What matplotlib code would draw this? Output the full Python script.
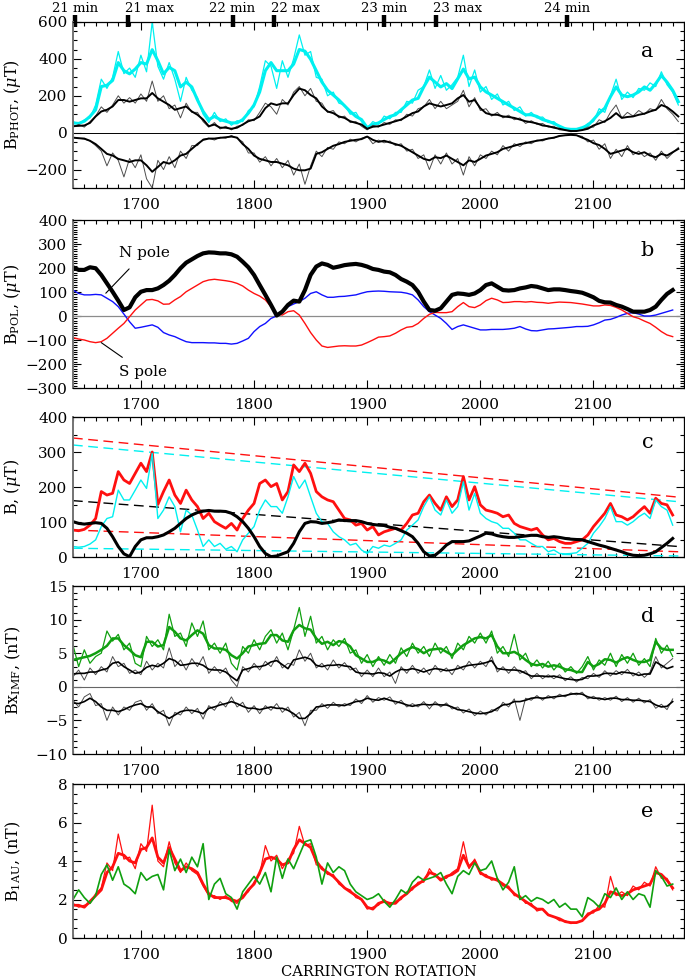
import numpy as np
import matplotlib
matplotlib.use("Agg")
import matplotlib.pyplot as plt
from matplotlib.ticker import MultipleLocator
import matplotlib.transforms as mtransforms

plt.rcParams['font.family'] = ['DejaVu Serif']
plt.rcParams['mathtext.fontset'] = 'dejavuserif'

# Carrington rotation grids
cr_a = np.arange(1640, 2176, 5)
cr = np.arange(1640, 2171, 5)

# solar cycle markers
cycle_cr = [1642, 1689, 1781, 1818, 1915, 1961, 2077]
cycle_lab = ["21 min", "21 max", "22 min", "22 max", "23 min", "23 max", "24 min"]

# ---- panel a: photospheric field (uT)
phot_cyan_thin = [60, 45, 70, 80, 150, 290, 240, 300, 440, 320,
                  350, 300, 420, 330, 600, 360, 290, 380, 290, 170,
                  300, 230, 190, 100, 55, 110, 60, 75, 40, 65,
                  60, 120, 140, 250, 390, 360, 240, 390, 300, 400,
                  530, 420, 440, 300, 290, 200, 220, 160, 150, 100,
                  110, 60, 25, 60, 45, 90, 75, 110, 110, 170,
                  160, 230, 250, 340, 240, 310, 230, 260, 300, 420,
                  250, 340, 220, 250, 180, 210, 150, 170, 120, 140,
                  90, 110, 80, 85, 55, 60, 30, 25, 15, 20,
                  25, 50, 60, 130, 110, 200, 290, 180, 220, 190,
                  240, 230, 270, 250, 330, 260, 220, 150]
phot_cyan = [53, 50, 62, 88, 124, 250, 257, 283, 380, 336,
             319, 345, 380, 372, 450, 390, 319, 354, 336, 248,
             274, 248, 177, 115, 71, 88, 71, 62, 53, 53,
             71, 106, 150, 221, 336, 380, 336, 336, 336, 372,
             451, 442, 398, 336, 274, 230, 204, 177, 146, 115,
             88, 71, 27, 44, 53, 71, 88, 97, 124, 150,
             177, 186, 248, 301, 274, 248, 266, 239, 292, 345,
             292, 301, 248, 221, 204, 186, 168, 150, 133, 115,
             97, 97, 88, 71, 62, 50, 35, 21, 18, 18,
             27, 39, 71, 106, 133, 195, 248, 204, 195, 204,
             221, 248, 230, 266, 310, 274, 230, 168]
phot_pos_thin = [30, 45, 30, 60, 90, 140, 110, 150, 200, 160,
                 190, 160, 210, 170, 280, 170, 200, 130, 150, 80,
                 160, 110, 110, 60, 30, 55, 20, 35, 15, 35,
                 40, 70, 65, 110, 160, 140, 100, 180, 150, 220,
                 250, 200, 240, 170, 160, 110, 120, 80, 90, 55,
                 60, 35, 15, 40, 30, 55, 45, 70, 65, 100,
                 90, 130, 140, 180, 130, 170, 130, 150, 170, 230,
                 140, 190, 120, 130, 90, 110, 80, 95, 70, 80,
                 50, 65, 45, 50, 30, 35, 15, 15, 5, 10,
                 15, 30, 30, 70, 55, 110, 150, 80, 110, 90,
                 120, 100, 130, 120, 180, 130, 100, 60]
phot_pos = [35, 37, 39, 53, 88, 115, 124, 142, 177, 177,
            168, 177, 186, 186, 215, 186, 168, 150, 124, 133,
            142, 115, 97, 71, 35, 44, 27, 27, 21, 27,
            44, 62, 71, 88, 133, 159, 150, 159, 159, 204,
            239, 230, 204, 186, 142, 115, 106, 88, 80, 62,
            53, 44, 21, 32, 35, 44, 53, 62, 71, 88,
            106, 115, 142, 159, 150, 142, 150, 159, 186, 204,
            168, 177, 133, 106, 97, 97, 88, 85, 80, 71,
            62, 57, 50, 39, 35, 27, 21, 14, 9, 9,
            14, 21, 39, 50, 62, 80, 106, 80, 85, 88,
            97, 103, 115, 124, 150, 138, 115, 88]
phot_neg_thin = [-25, -30, -35, -45, -70, -100, -180, -110, -150, -240,
                 -140, -190, -120, -250, -300, -150, -200, -130, -190, -100,
                 -140, -70, -70, -35, -30, -40, -25, -30, -15, -30,
                 -50, -110, -110, -160, -130, -180, -140, -190, -150, -230,
                 -170, -280, -180, -100, -130, -80, -90, -50, -60, -35,
                 -50, -30, -20, -60, -40, -55, -45, -70, -60, -100,
                 -90, -140, -120, -200, -120, -170, -110, -170, -140, -230,
                 -130, -180, -120, -140, -100, -120, -70, -100, -60, -75,
                 -50, -60, -40, -45, -30, -30, -15, -15, -10, -15,
                 -20, -50, -40, -90, -60, -140, -90, -130, -70, -120,
                 -100, -130, -110, -150, -100, -140, -110, -80]
phot_neg = [-27, -30, -32, -44, -62, -88, -115, -124, -142, -150,
            -159, -150, -150, -177, -212, -186, -159, -168, -150, -124,
            -115, -88, -62, -39, -32, -32, -28, -25, -21, -27,
            -62, -88, -124, -142, -150, -159, -159, -168, -177, -195,
            -204, -204, -195, -115, -106, -88, -71, -62, -50, -44,
            -39, -35, -21, -39, -50, -44, -53, -62, -71, -88,
            -106, -124, -142, -150, -133, -138, -124, -142, -159, -177,
            -150, -159, -142, -124, -115, -106, -88, -80, -71, -62,
            -57, -50, -44, -39, -32, -27, -18, -14, -12, -14,
            -27, -39, -57, -67, -88, -115, -106, -97, -88, -106,
            -115, -106, -124, -133, -115, -124, -106, -88]

# ---- panel b: polar field (uT)
pol_total = [203, 192, 192, 203, 199, 171, 136, 101, 64, 25,
             36, 78, 101, 108, 108, 115, 129, 147, 171, 199,
             222, 236, 250, 261, 265, 264, 261, 261, 257, 247,
             226, 203, 171, 129, 88, 46, 2, 18, 46, 64,
             60, 108, 171, 206, 219, 213, 201, 206, 212, 215,
             217, 213, 206, 196, 192, 185, 182, 171, 154, 143,
             129, 101, 60, 25, 22, 32, 60, 88, 94, 92,
             88, 94, 108, 129, 136, 122, 108, 106, 108, 115,
             119, 125, 122, 115, 108, 111, 111, 108, 104, 101,
             97, 88, 78, 63, 57, 56, 46, 39, 29, 18,
             18, 18, 25, 39, 67, 92, 108]
pol_north = [108, 94, 88, 88, 90, 88, 74, 60, 39, 8,
             -24, -51, -47, -42, -37, -47, -69, -79, -86, -97,
             -107, -111, -111, -111, -112, -112, -114, -114, -117, -114,
             -104, -93, -65, -44, -31, -10, 0, 18, 39, 50,
             60, 74, 94, 101, 88, 78, 78, 81, 82, 85,
             88, 95, 101, 103, 104, 103, 101, 100, 99, 95,
             88, 67, 39, 18, 4, -10, -31, -56, -44, -37,
             -44, -51, -58, -58, -56, -56, -56, -54, -51, -44,
             -54, -61, -62, -58, -54, -53, -51, -49, -47, -44,
             -44, -43, -37, -28, -17, -14, -6, 4, 11, 14,
             8, 0, 0, 4, 11, 18, 25]
pol_south = [-90, -96, -100, -107, -111, -107, -93, -72, -51, -31,
             -3, 25, 46, 67, 69, 63, 49, 50, 67, 81,
             101, 115, 129, 143, 150, 153, 150, 147, 143, 136,
             125, 108, 94, 83, 67, 39, 8, 4, 18, 22,
             4, -31, -69, -100, -125, -131, -128, -125, -124, -125,
             -125, -121, -111, -100, -88, -86, -83, -72, -58, -47,
             -44, -31, -10, 7, 15, 14, 14, 18, 39, 56,
             39, 35, 46, 64, 74, 67, 56, 57, 60, 60,
             58, 60, 57, 56, 53, 56, 58, 57, 56, 53,
             50, 46, 42, 42, 46, 44, 36, 25, 11, -3,
             -10, -21, -31, -47, -65, -79, -86]

# ---- panel c: B (uT)
c_red = [77, 75, 79, 91, 110, 187, 177, 182, 244, 220,
         210, 239, 268, 244, 300, 150, 187, 220, 177, 153,
         191, 163, 144, 110, 125, 101, 91, 82, 96, 77,
         110, 134, 153, 210, 220, 201, 210, 163, 187, 263,
         244, 268, 239, 187, 172, 163, 158, 134, 110, 106,
         91, 96, 77, 87, 63, 72, 77, 82, 77, 96,
         120, 125, 158, 177, 153, 134, 172, 144, 163, 230,
         163, 201, 149, 134, 130, 125, 115, 120, 96, 87,
         82, 77, 82, 63, 49, 53, 44, 39, 39, 44,
         49, 63, 87, 106, 125, 153, 120, 115, 106, 115,
         130, 144, 125, 168, 153, 149, 120]
c_cyan = [30, 28, 30, 37, 49, 87, 110, 115, 191, 163,
          163, 191, 220, 196, 296, 110, 134, 172, 144, 72,
          134, 120, 77, 30, 49, 30, 39, 22, 30, 15,
          49, 68, 87, 134, 163, 144, 144, 125, 172, 230,
          196, 220, 172, 125, 101, 96, 72, 58, 49, 34,
          39, 20, 10, 30, 25, 34, 30, 39, 49, 77,
          91, 106, 144, 172, 134, 120, 163, 125, 144, 215,
          134, 182, 125, 110, 101, 96, 82, 82, 68, 49,
          49, 39, 30, 30, 15, 20, 10, 9, 10, 12,
          25, 39, 68, 87, 110, 144, 101, 101, 91, 101,
          115, 125, 110, 163, 144, 134, 91]
c_black = [101, 96, 94, 96, 98, 96, 82, 58, 30, 9,
           1, 30, 49, 55, 55, 58, 63, 72, 82, 96,
           110, 120, 127, 131, 133, 131, 131, 130, 125, 115,
           101, 82, 58, 30, 10, 1, 3, 9, 15, 39,
           72, 96, 101, 100, 96, 98, 101, 106, 104, 104,
           104, 101, 96, 93, 91, 90, 85, 82, 75, 68,
           58, 39, 15, 3, 5, 18, 34, 44, 44, 44,
           46, 53, 60, 68, 66, 61, 58, 56, 56, 58,
           60, 62, 62, 58, 56, 58, 56, 53, 51, 50,
           49, 44, 39, 34, 30, 25, 20, 15, 9, 5,
           4, 5, 9, 15, 27, 39, 53]
trend_cr = [1640, 2175]
trend_red_hi = [340, 171]
trend_cyan_hi = [320, 158]
trend_black = [161, 30]
trend_red_lo = [77, 15]
trend_cyan_lo = [25, 3]

# ---- panel d: Bx IMF (nT)
bx_green_thin = [6.2, 3.0, 5.5, 3.5, 4.5, 5.0, 8.3, 6.8, 7.8, 5.5,
                 6.5, 3.5, 3.0, 7.5, 6.0, 7.0, 5.5, 10.8, 7.5, 8.0,
                 6.0, 9.5, 7.5, 9.8, 5.5, 6.5, 5.0, 6.5, 3.5, 2.5,
                 6.0, 5.0, 7.0, 5.5, 7.5, 8.5, 6.5, 8.0, 5.5, 8.5,
                 11.8, 7.5, 10.5, 6.5, 7.5, 5.5, 7.0, 6.0, 7.2, 5.0,
                 5.5, 3.5, 4.8, 3.0, 4.5, 3.2, 4.8, 3.5, 5.8, 4.5,
                 6.5, 5.0, 6.0, 4.5, 6.5, 5.0, 6.0, 4.2, 6.5, 5.5,
                 7.5, 6.5, 8.0, 6.5, 8.3, 5.0, 6.0, 4.5, 7.8, 4.0,
                 5.0, 3.0, 4.0, 2.8, 3.8, 2.5, 3.5, 2.2, 3.0, 2.0,
                 3.0, 4.5, 2.5, 4.0, 3.2, 5.0, 3.0, 4.8, 3.5, 5.0,
                 3.2, 4.2, 3.0, 7.2, 5.0, 6.2, 4.5]
bx_green = [4.0, 4.2, 4.4, 4.6, 5.0, 5.5, 6.1, 7.2, 7.2, 6.2,
            5.5, 4.7, 4.4, 6.7, 6.7, 6.0, 6.2, 8.9, 8.2, 7.2,
            6.9, 7.7, 8.4, 7.9, 6.2, 5.7, 5.7, 5.5, 4.7, 4.2,
            5.0, 6.0, 6.2, 6.4, 6.5, 7.7, 7.7, 6.9, 6.7, 8.4,
            9.2, 8.7, 8.5, 7.2, 6.4, 6.7, 6.2, 6.8, 6.6, 6.0,
            4.7, 4.2, 3.7, 3.7, 4.1, 3.9, 3.5, 4.2, 5.0, 5.5,
            5.9, 5.6, 5.0, 5.5, 5.6, 5.7, 5.2, 4.7, 5.5, 6.2,
            6.7, 7.2, 7.4, 7.2, 7.7, 6.0, 5.0, 5.0, 5.2, 4.7,
            4.0, 3.4, 3.2, 3.4, 3.0, 3.2, 3.0, 2.6, 2.5, 2.2,
            2.2, 3.7, 3.0, 3.4, 4.1, 4.0, 3.6, 4.1, 4.4, 4.0,
            3.7, 3.7, 4.0, 6.7, 5.7, 5.5, 5.5]
bx_pos_thin = [1.5, 2.5, 1.0, 2.8, 1.8, 3.0, 2.2, 4.5, 3.0, 3.5,
               2.0, 2.5, 1.8, 3.8, 2.5, 3.5, 2.8, 5.8, 3.0, 4.0,
               2.5, 4.2, 3.0, 4.5, 2.0, 3.0, 2.0, 2.8, 1.0, 0.0,
               3.0, 2.2, 3.5, 2.5, 3.8, 3.0, 4.5, 2.8, 3.5, 3.2,
               5.5, 3.8, 5.0, 2.8, 3.5, 2.5, 4.0, 2.8, 3.6, 2.5,
               2.8, 1.5, 2.5, 1.5, 2.8, 1.5, 2.2, 0.5, 3.0, 2.0,
               3.2, 2.0, 2.8, 1.8, 3.2, 2.2, 2.8, 1.8, 3.2, 2.5,
               3.8, 2.8, 3.8, 3.0, 4.5, 2.2, 3.0, 2.0, 3.0, 2.0,
               2.4, 1.2, 2.0, 1.2, 1.8, 1.2, 1.8, 0.9, 1.5, 0.7,
               1.4, 1.2, 2.0, 1.4, 2.4, 1.6, 2.4, 1.8, 2.6, 1.6,
               2.2, 1.4, 2.2, 4.5, 2.8, 3.5, 4.2]
bx_pos = [1.9, 2.0, 2.0, 2.2, 2.2, 2.5, 2.7, 3.5, 3.7, 3.0,
          2.5, 2.0, 2.2, 2.9, 3.2, 3.0, 3.5, 4.2, 3.9, 3.2,
          3.3, 3.5, 3.5, 3.2, 2.6, 2.5, 2.5, 2.2, 1.5, 0.9,
          2.5, 2.7, 3.0, 3.0, 3.2, 3.7, 3.9, 3.3, 2.7, 4.0,
          4.2, 4.4, 4.1, 3.2, 3.0, 3.2, 3.2, 3.3, 3.1, 3.0,
          2.2, 2.0, 2.0, 1.9, 2.1, 2.0, 1.6, 2.2, 2.6, 2.5,
          2.7, 2.5, 2.2, 2.5, 2.7, 2.6, 2.4, 2.5, 2.7, 3.0,
          3.2, 3.3, 3.4, 3.6, 3.9, 2.7, 2.6, 2.5, 2.5, 2.4,
          2.0, 1.6, 1.6, 1.6, 1.5, 1.6, 1.4, 1.2, 1.1, 1.0,
          1.1, 1.6, 1.6, 1.7, 2.0, 2.0, 1.9, 2.2, 2.1, 2.0,
          1.7, 1.9, 1.9, 3.7, 3.2, 2.7, 3.0]
bx_neg_thin = [-2.0, -3.0, -1.5, -1.0, -2.8, -2.5, -5.0, -3.0, -4.2, -3.0,
               -3.5, -2.3, -2.0, -3.5, -2.5, -4.0, -3.5, -5.8, -3.8, -4.2,
               -3.0, -4.0, -3.2, -4.8, -2.8, -3.5, -2.2, -3.0, -1.5, -3.0,
               -2.3, -3.8, -2.8, -4.0, -2.8, -3.5, -2.5, -3.8, -3.0, -4.5,
               -3.8, -5.8, -3.5, -3.5, -2.5, -3.2, -2.3, -3.0, -2.5, -2.8,
               -1.8, -2.5, -1.3, -2.3, -1.6, -2.0, -1.5, -2.6, -2.0, -3.0,
               -2.5, -3.0, -2.2, -3.3, -2.2, -3.0, -2.4, -3.3, -3.0, -3.9,
               -3.3, -4.3, -3.6, -4.2, -3.4, -3.6, -2.3, -3.0, -1.8, -5.0,
               -1.7, -2.0, -1.3, -2.0, -1.3, -1.8, -1.1, -1.5, -0.9, -1.2,
               -0.8, -1.8, -1.4, -2.0, -1.6, -2.0, -1.4, -2.2, -1.6, -2.3,
               -1.7, -2.4, -1.9, -3.2, -2.6, -3.4, -1.8]
bx_neg = [-2.4, -2.5, -2.2, -1.7, -2.2, -3.0, -3.5, -3.5, -3.7, -3.4,
          -3.0, -2.7, -2.5, -3.0, -3.0, -3.7, -4.2, -4.7, -4.2, -3.7,
          -3.5, -3.5, -3.7, -4.0, -3.2, -3.0, -2.7, -2.5, -2.2, -2.5,
          -2.9, -3.2, -3.2, -3.4, -3.2, -3.0, -3.2, -3.2, -3.5, -4.0,
          -4.7, -4.7, -4.0, -3.0, -2.9, -2.7, -2.7, -2.7, -2.8, -2.5,
          -2.2, -2.1, -1.7, -1.9, -2.0, -1.7, -2.0, -2.2, -2.4, -2.7,
          -2.9, -2.7, -2.6, -2.7, -2.6, -2.7, -2.7, -3.0, -3.4, -3.5,
          -3.7, -3.9, -4.0, -3.9, -3.7, -3.2, -2.7, -2.6, -2.2, -2.2,
          -2.0, -1.7, -1.6, -1.7, -1.6, -1.5, -1.4, -1.3, -1.1, -1.0,
          -1.1, -1.5, -1.7, -1.7, -1.9, -1.7, -1.7, -1.9, -1.9, -2.0,
          -2.0, -2.1, -2.2, -2.7, -3.0, -2.9, -2.2]

# ---- panel e: B at 1 AU (nT)
b1au_red_thin = [1.8, 1.6, 1.7, 1.8, 2.3, 2.6, 3.9, 3.5, 5.4, 4.1,
                 4.2, 3.6, 4.9, 4.5, 6.9, 4.0, 3.7, 5.0, 3.9, 3.4,
                 3.9, 3.5, 3.3, 2.7, 2.2, 2.2, 2.0, 2.2, 1.9, 1.8,
                 2.2, 2.4, 2.9, 3.3, 4.8, 4.0, 4.3, 3.6, 4.1, 4.4,
                 5.8, 4.8, 4.9, 3.8, 3.7, 3.3, 3.3, 2.8, 2.6, 2.5,
                 2.1, 2.0, 1.5, 1.6, 1.7, 2.0, 1.7, 1.9, 2.0, 2.4,
                 2.5, 2.9, 2.9, 3.6, 3.2, 3.1, 3.1, 3.4, 3.6, 5.0,
                 3.6, 4.1, 3.3, 3.3, 3.0, 3.1, 2.7, 2.7, 2.2, 2.2,
                 1.8, 1.8, 1.4, 1.5, 1.2, 1.1, 0.9, 0.9, 0.75, 0.8,
                 0.9, 1.3, 1.3, 1.7, 1.6, 3.2, 2.2, 2.4, 2.2, 2.7,
                 2.5, 2.9, 2.7, 3.7, 3.1, 3.1, 2.5]
b1au_red = [1.7, 1.7, 1.6, 1.9, 2.2, 2.5, 3.4, 3.7, 4.4, 4.3,
            4.0, 3.9, 4.6, 4.7, 5.2, 4.2, 3.9, 4.7, 4.1, 3.5,
            3.7, 3.6, 3.4, 2.8, 2.3, 2.1, 2.1, 2.1, 2.0, 1.9,
            2.1, 2.5, 2.8, 3.4, 4.1, 4.2, 4.1, 3.8, 3.9, 4.6,
            5.1, 4.9, 4.7, 4.0, 3.6, 3.4, 3.2, 2.9, 2.6, 2.4,
            2.2, 2.0, 1.6, 1.5, 1.8, 1.9, 1.8, 1.8, 2.1, 2.3,
            2.6, 2.8, 3.0, 3.4, 3.3, 3.0, 3.2, 3.3, 3.5, 4.3,
            3.7, 4.0, 3.4, 3.2, 3.1, 3.0, 2.8, 2.6, 2.3, 2.1,
            1.9, 1.7, 1.5, 1.5, 1.2, 1.1, 1.0, 0.85, 0.8, 0.8,
            0.9, 1.2, 1.4, 1.5, 1.8, 2.4, 2.3, 2.2, 2.3, 2.5,
            2.6, 2.7, 2.8, 3.4, 3.3, 3.0, 2.6]
b1au_green = [2.0, 2.5, 2.1, 1.8, 2.2, 3.3, 3.8, 3.0, 3.7, 2.8,
              2.6, 2.3, 3.4, 3.0, 3.2, 3.3, 2.5, 4.6, 3.5, 4.1,
              3.4, 4.2, 3.7, 4.9, 2.0, 2.8, 3.1, 2.3, 2.1, 1.5,
              2.4, 2.8, 3.2, 2.8, 3.4, 2.4, 4.2, 3.1, 4.1, 3.6,
              4.3, 5.0, 5.1, 4.2, 2.8, 3.9, 3.4, 3.7, 3.5, 2.8,
              2.4, 2.2, 2.0, 2.1, 2.3, 1.9, 1.6, 2.0, 2.5, 2.3,
              2.9, 3.2, 3.0, 3.1, 3.2, 3.4, 2.8, 2.3, 3.2, 3.5,
              3.3, 3.9, 3.5, 3.6, 4.0, 3.1, 2.5, 2.9, 3.7, 2.0,
              2.2, 1.9, 2.1, 2.0, 1.8, 2.0, 1.6, 1.8, 1.5, 1.5,
              1.1, 2.1, 1.9, 1.6, 2.3, 2.1, 2.6, 2.0, 2.4, 2.0,
              2.3, 2.2, 1.6, 3.5, 3.2, 2.7, 2.8]

CYAN = "#00f0f0"
RED = "#ff1010"
BLUE = "#1010ff"
GREEN = "#10a010"

fig = plt.figure(figsize=(6.85, 9.8), dpi=100)
left, width = 73 / 685, 611 / 685


def make_ax(top_px, bot_px):
    ax = fig.add_axes([left, 1 - bot_px / 980, width, (bot_px - top_px) / 980])
    ax.set_xlim(1640, 2180)
    ax.xaxis.set_major_locator(MultipleLocator(100))
    ax.xaxis.set_minor_locator(MultipleLocator(10))
    ax.tick_params(which="both", direction="in", top=True, right=True,
                   labelsize=11, width=0.8)
    ax.tick_params(which="major", length=6)
    ax.tick_params(which="minor", length=3)
    ax.tick_params(axis="x", which="major", pad=7)
    ax.tick_params(axis="y", which="major", pad=4)
    ax.spines["left"].set_color("0.45")
    ax.spines["left"].set_linewidth(1.4)
    for s in ["top", "right", "bottom"]:
        ax.spines[s].set_linewidth(0.9)
    return ax


def panel_letter(ax, letter):
    ax.text(0.94, 0.82, letter, transform=ax.transAxes, fontsize=15,
            ha="center", va="center")


def ylab(ax, text):
    ax.set_ylabel(text, fontsize=11.5)
    ax.yaxis.set_label_coords(-0.082, 0.5)


# panel a
ax = make_ax(22, 188)
ax.set_ylim(-300, 600)
ax.yaxis.set_major_locator(MultipleLocator(200))
ax.yaxis.set_minor_locator(MultipleLocator(50))
ax.axhline(0, color="k", lw=0.7)
ax.plot(cr_a, phot_cyan_thin, color=CYAN, lw=0.9)
ax.plot(cr_a, phot_cyan, color=CYAN, lw=2.2)
ax.plot(cr_a, phot_pos_thin, color="0.3", lw=0.7)
ax.plot(cr_a, phot_pos, color="k", lw=1.4)
ax.plot(cr_a, phot_neg_thin, color="0.3", lw=0.7)
ax.plot(cr_a, phot_neg, color="k", lw=1.4)
ylab(ax, r"B$_{\rm PHOT}$, ($\mu$T)")
panel_letter(ax, "a")
trans = mtransforms.blended_transform_factory(ax.transData, ax.transAxes)
for c, lab in zip(cycle_cr, cycle_lab):
    ax.plot([c, c], [0.97, 1.042], transform=trans, color="k", lw=3.2,
            solid_capstyle="butt", clip_on=False)
    if "max" in lab:
        ax.text(c - 3, 1.058, lab, transform=trans, ha="left", va="baseline",
                fontsize=9.5)
    else:
        ax.text(c, 1.058, lab, transform=trans, ha="center", va="baseline",
                fontsize=9.5)

# panel b
ax = make_ax(220, 388)
ax.set_ylim(-300, 400)
ax.yaxis.set_major_locator(MultipleLocator(100))
ax.yaxis.set_minor_locator(MultipleLocator(10))
ax.axhline(0, color="0.55", lw=0.9)
ax.plot(cr, pol_north, color=BLUE, lw=1.0)
ax.plot(cr, pol_south, color=RED, lw=1.0)
ax.plot(cr, pol_total, color="k", lw=3.0)
ax.annotate("N pole", xy=(1669, 95), xytext=(1703, 262), fontsize=11,
            ha="center", va="center",
            arrowprops=dict(arrowstyle="-", color="k", lw=0.8, shrinkA=6, shrinkB=0))
ax.annotate("S pole", xy=(1665, -111), xytext=(1702, -233), fontsize=11,
            ha="center", va="center",
            arrowprops=dict(arrowstyle="-", color="k", lw=0.8, shrinkA=6, shrinkB=0))
ylab(ax, r"B$_{\rm POL}$, ($\mu$T)")
panel_letter(ax, "b")

# panel c
ax = make_ax(417, 557)
ax.set_ylim(0, 400)
ax.yaxis.set_major_locator(MultipleLocator(100))
ax.yaxis.set_minor_locator(MultipleLocator(50))
dash = (7, 4)
ax.plot(trend_cr, trend_red_hi, color=RED, lw=1.0, dashes=dash)
ax.plot(trend_cr, trend_cyan_hi, color=CYAN, lw=1.0, dashes=dash)
ax.plot(trend_cr, trend_black, color="k", lw=1.0, dashes=dash)
ax.plot(trend_cr, trend_red_lo, color=RED, lw=1.0, dashes=dash)
ax.plot(trend_cr, trend_cyan_lo, color=CYAN, lw=1.0, dashes=dash)
ax.plot(cr, c_red, color=RED, lw=2.0)
ax.plot(cr, c_cyan, color=CYAN, lw=1.0)
ax.plot(cr, c_black, color="k", lw=2.2)
ylab(ax, r"B, ($\mu$T)")
panel_letter(ax, "c")

# panel d
ax = make_ax(586, 754)
ax.set_ylim(-10, 15)
ax.yaxis.set_major_locator(MultipleLocator(5))
ax.yaxis.set_minor_locator(MultipleLocator(1))
ax.axhline(0, color="0.4", lw=0.8)
ax.plot(cr, bx_green_thin, color=GREEN, lw=0.9)
ax.plot(cr, bx_green, color=GREEN, lw=1.8)
ax.plot(cr, bx_pos_thin, color="0.3", lw=0.7)
ax.plot(cr, bx_pos, color="k", lw=1.2)
ax.plot(cr, bx_neg_thin, color="0.3", lw=0.7)
ax.plot(cr, bx_neg, color="k", lw=1.2)
ylab(ax, r"Bx$_{\rm IMF}$, (nT)")
panel_letter(ax, "d")

# panel e
ax = make_ax(784, 938)
ax.set_ylim(0, 8)
ax.yaxis.set_major_locator(MultipleLocator(2))
ax.yaxis.set_minor_locator(MultipleLocator(0.5))
ax.plot(cr, b1au_red_thin, color=RED, lw=0.9)
ax.plot(cr, b1au_red, color=RED, lw=2.0)
ax.plot(cr, b1au_green, color=GREEN, lw=1.2)
ylab(ax, r"B$_{\rm 1AU}$, (nT)")
panel_letter(ax, "e")
ax.set_xlabel("CARRINGTON ROTATION", fontsize=10.5, labelpad=2)

fig.savefig("out.png", dpi=100)
